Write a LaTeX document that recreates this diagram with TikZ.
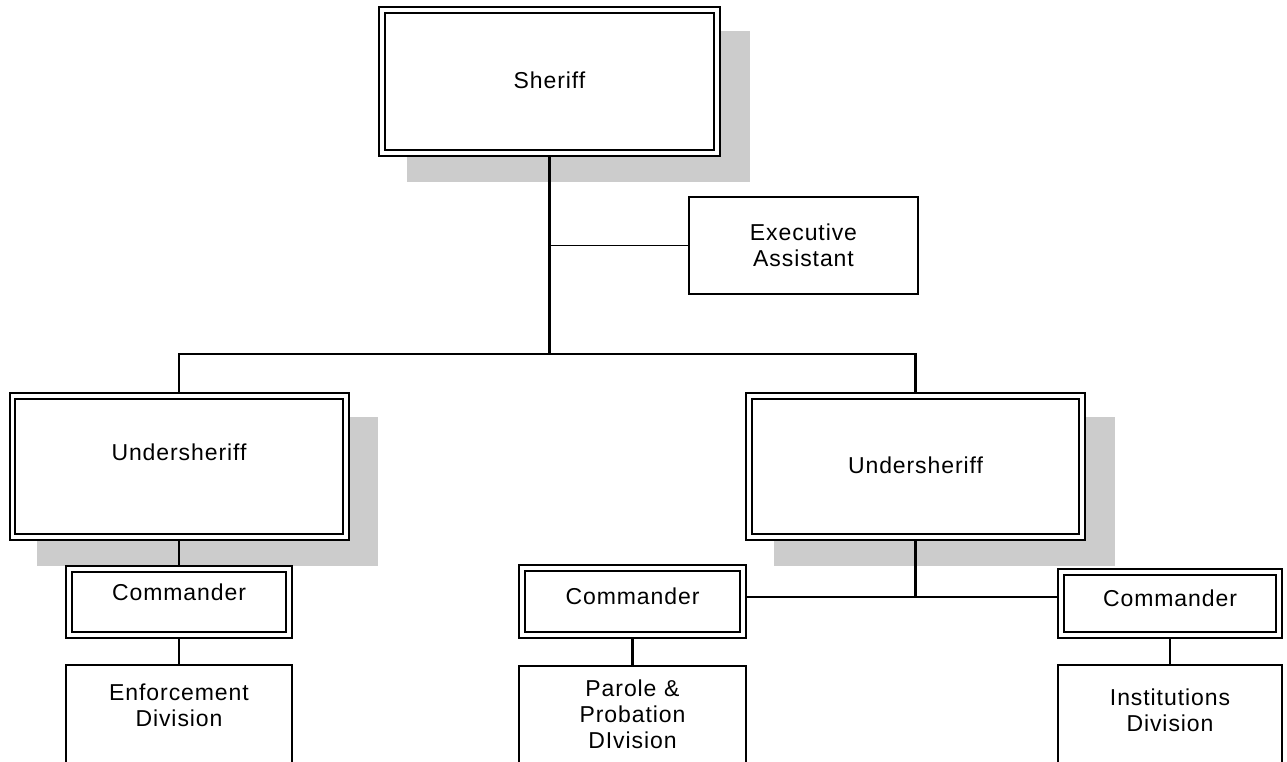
\documentclass[tikz,border=0pt]{standalone}
\usepackage{fontspec}
\setmainfont{Liberation Sans}[LetterSpace=4]
\usetikzlibrary{calc,backgrounds}
\definecolor{shadegray}{HTML}{CCCCCC}
\newcommand{\linew}{2.1pt}
\newcommand{\boxgap}{3.6pt}
\newcommand{\shadowof}[1]{\fill[shadegray] ($(#1.north west)+(24.7,20.7)$) rectangle ($(#1.south east)+(32.3,28.3)$);}
\pgfdeclarelayer{shade}
\pgfsetlayers{shade,background,main}
\tikzset{
  chief/.style={draw, double, double distance=\boxgap, line width=2pt, fill=white, anchor=north, align=center, inner sep=0pt, outer sep=0pt, font=\fontsize{23}{26}\selectfont},
  unit/.style={draw, line width=\linew, fill=white, anchor=north, align=center, inner sep=0pt, outer sep=0pt, font=\fontsize{23}{26}\selectfont},
  link/.style={line width=\linew},
  thinlink/.style={line width=1.4pt}
}

\begin{document}
\begin{tikzpicture}[x=1pt,y=-1pt]
\clip (0,0) rectangle (1287,761);
\node[chief] (sheriff) at (549.5, 9.8) [text width=335.4pt, text height=78.4pt, text depth=65pt] {Sheriff};
\node[unit] (exec) at (803.5, 197) [text width=229pt, text height=43.5pt, text depth=53.5pt] {Executive\\Assistant};
\node[chief] (usl) at (179, 395.8) [text width=333.4pt, text height=64.7pt, text depth=76.7pt] {Undersheriff};
\node[chief] (usr) at (915.5, 395.8) [text width=333.4pt, text height=77.4pt, text depth=64pt] {Undersheriff};
\node[chief] (cmdl) at (179, 568.8) [text width=220.4pt, text height=31.8pt, text depth=34.6pt] {Commander};
\node[unit] (enf) at (179, 665) [text width=226pt, text height=35.5pt, text depth=120pt] {Enforcement\\Division};
\node[chief] (cmdp) at (632.5, 567.8) [text width=221.4pt, text height=37.1pt, text depth=30.3pt] {Commander};
\node[unit] (parole) at (632.5, 666) [text width=227pt, text height=30pt, text depth=120pt] {Parole \&\\Probation\\DIvision};
\node[chief] (cmdi) at (1170, 571.8) [text width=218.4pt, text height=34.2pt, text depth=29.2pt] {Commander};
\node[unit] (inst) at (1170, 665) [text width=224pt, text height=40pt, text depth=120pt] {Institutions\\Division};
\coordinate (bar) at (549.5, 354);
\coordinate (execjoin) at (549.5, 245.5);
\coordinate (cbar) at (915.5, 597);
%links
\begin{scope}[on background layer]
\draw[link] (sheriff.center) -- (bar);
\draw[link] (bar) -| (usl.center);
\draw[link] (bar) -| (usr.center);
\draw[thinlink] (execjoin) -- (exec.center);
\draw[link] (usl.center) -- (cmdl.center) -- (enf.center);
\draw[link] (usr.center) -- (cbar);
\draw[thinlink] (cmdp.center |- cbar) -- (cmdi.center |- cbar);
\draw[link] (cmdp.center) -- (parole.center);
\draw[link] (cmdi.center) -- (inst.center);
\end{scope}
%shadows
\begin{pgfonlayer}{shade}
\shadowof{sheriff}
\shadowof{usl}
\shadowof{usr}
\end{pgfonlayer}
\end{tikzpicture}
\end{document}
